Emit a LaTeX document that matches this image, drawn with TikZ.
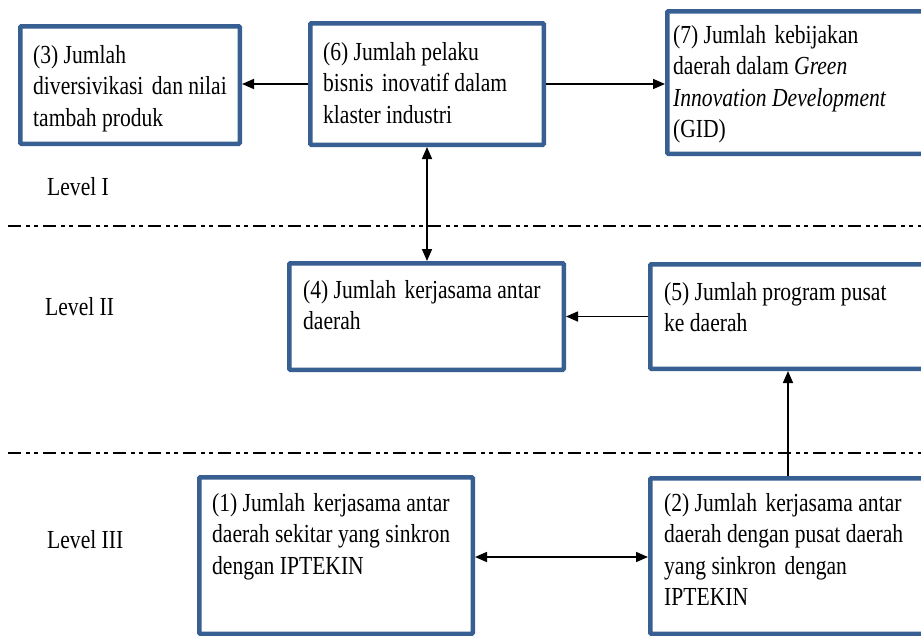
\documentclass[tikz,border=0pt]{standalone}
\usepackage{fontspec}
\setmainfont{Liberation Serif}[FakeStretch=0.83]
\usetikzlibrary{arrows.meta,calc}

\definecolor{boxblue}{HTML}{385F91}
% slightly widened word gap
\newcommand{\wgap}{\ \hspace{3pt}}

\begin{document}
\begin{tikzpicture}[x=1pt,y=-1pt,
  box/.style={draw=boxblue, line width=4.5pt, fill=white, rounded corners=1pt, inner sep=0pt},
  txt/.style={anchor=north west, align=left, inner sep=0pt, font=\fontsize{26}{31.5}\selectfont},
  lvl/.style={anchor=base west, inner sep=0pt, font=\fontsize{26}{30}\selectfont},
  tip/.tip={Triangle[length=12pt,width=10pt]},
  conn/.style={line width=1.6pt, -tip},
  bi/.style={line width=1.6pt, tip-tip},
  sep/.style={line width=2pt, dash pattern=on 13.3pt off 4.7pt on 4pt off 4.3pt on 4pt off 4.7pt}]

\useasboundingbox (0,0) rectangle (921,635);
\clip (0,0) rectangle (921,635);

% level separators
\coordinate (s1a) at (8,226);  \coordinate (s1b) at (921,226);
\coordinate (s2a) at (8,453);  \coordinate (s2b) at (921,453);
\draw[sep] (s1a) -- (s1b);
\draw[sep] (s2a) -- (s2b);

% level labels
\node[lvl] (l1) at (47,195) {Level I};
\node[lvl] (l2) at (45,315) {Level II};
\node[lvl] (l3) at (47,548) {Level III};

% boxes (outer size minus line width)
\node[box, minimum width=219.5pt, minimum height=117.5pt] (b3) at (130,85) {};
\node[box, minimum width=233.5pt, minimum height=121.5pt] (b6) at (427,84) {};
\node[box, minimum width=275.5pt, minimum height=142.5pt] (b7) at (805,82.5) {};
\node[box, minimum width=274.5pt, minimum height=106.5pt] (b4) at (426.5,316.5) {};
\node[box, minimum width=285.5pt, minimum height=104.5pt] (b5) at (793,316.5) {};
\node[box, minimum width=273.5pt, minimum height=156.5pt] (b1) at (336,555.5) {};
\node[box, minimum width=285.5pt, minimum height=155.5pt] (b2) at (793,556) {};

% box texts
\node[txt] (t3) at ($(b3.north west)+(15,21)$) {(3) Jumlah\\diversivikasi\wgap dan nilai\\tambah produk};
\node[txt] (t6) at ($(b6.north west)+(15,21)$) {(6) Jumlah pelaku\\bisnis\wgap inovatif dalam\\klaster industri};
\node[txt] (t7) at ($(b7.north west)+(8,16)$) {(7) Jumlah\wgap kebijakan\\daerah dalam \textit{Green}\\\textit{Innovation Development}\\(GID)};
\node[txt] (t4) at ($(b4.north west)+(16,19)$) {(4) Jumlah\wgap kerjasama antar\\daerah};
\node[txt] (t5) at ($(b5.north west)+(16,20)$) {(5) Jumlah program pusat\\ke daerah};
\node[txt] (t1) at ($(b1.north west)+(15,18)$) {(1) Jumlah\wgap kerjasama antar\\daerah sekitar yang sinkron\\dengan IPTEKIN};
\node[txt] (t2) at ($(b2.north west)+(16,17)$) {(2) Jumlah\wgap kerjasama antar\\daerah dengan pusat daerah\\yang sinkron\wgap dengan\\IPTEKIN};

% connectors
\draw[conn] (b6.west) -- (b6.west -| b3.east);
\draw[conn] (b6.east) -- (b6.east -| b7.west);
\draw[bi] (b6.south) -- (b6.south |- b4.north);
\draw[conn] (b5.west) -- (b5.west -| b4.east);
\coordinate (p2) at ($(b2.north west)+(140,0)$);
\draw[conn] (p2) -- (p2 |- b5.south);
\coordinate (p1) at ($(b1.north east)+(0,82)$);
\draw[bi] (p1) -- (p1 -| b2.west);
\end{tikzpicture}
\end{document}
